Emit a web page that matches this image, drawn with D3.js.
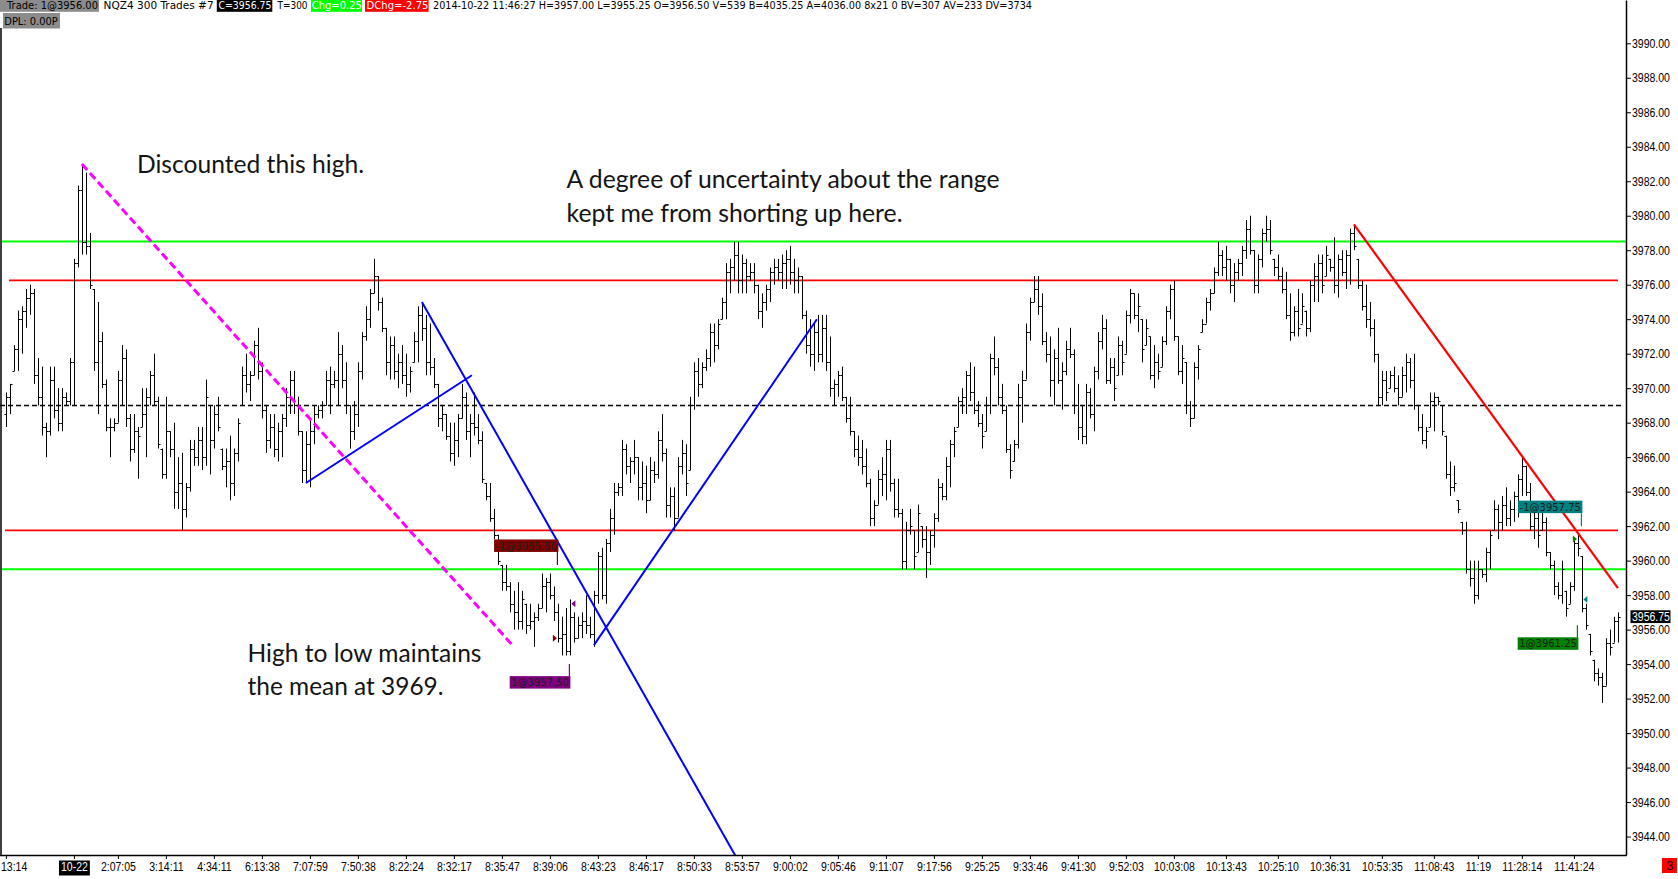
<!DOCTYPE html>
<html>
<head>
<meta charset="utf-8">
<script src="https://cdn.jsdelivr.net/npm/d3@7"></script>
<style>
  body { margin: 0; background: #fff; overflow: hidden; }
  svg { display: block; }
</style>
</head>
<body>
<svg id="chart" width="1678" height="879"></svg>
<script>
// NQZ4, 300 trade bars, 2014-10-22 (quarter points)
const barHigh = [
  3969.75,3970.25,3972.5,3974.5,3974.75,3975.75,3976,3975.75,3971.75,3971.25,3968,3971.25,3971.25,3970,3970,3969.75,3971.75,3977.5,3981.75,3983,
  3982.5,3979,3975.75,3975,3973.25,3970.5,3968.25,3968.25,3971,3972.5,3972.25,3968.5,3968.5,3967.75,3970,3970,3971,3972,3969.5,3966.5,
  3969.5,3967.5,3968,3966,3966.25,3964.5,3967,3967,3967.75,3967.75,3970.5,3969,3969,3969.5,3966.5,3966.5,3967.25,3966.5,3968.25,3971.25,
  3972,3971,3972.75,3973.5,3971.5,3969,3968.5,3968.5,3968,3968.5,3970,3971,3971,3969.5,3967.5,3967.5,3968.25,3969,3969,3969.25,
  3971,3971.25,3971,3973.25,3972.5,3971.5,3969,3969.25,3971.5,3973.25,3974.75,3975.75,3977.5,3976.5,3975.25,3973.5,3973,3973,3972,3972.5,
  3972,3971.25,3973.25,3974.75,3975,3974.25,3973.75,3971.75,3970.25,3969,3968.5,3968,3968,3968.5,3970.25,3969.75,3968.5,3969.75,3968.5,3967.5,
  3964.5,3964.5,3963,3961.5,3959.75,3959.75,3958.75,3958.25,3958.75,3958.25,3957.5,3957.5,3957,3957.5,3959.25,3959,3959.25,3958.5,3957.5,3956.75,
  3957.25,3957.75,3957,3956.75,3957,3958,3956.75,3958.25,3960.5,3960.75,3961.25,3963,3964.5,3964.5,3967,3966.75,3966,3967,3966,3965.75,
  3965.5,3966,3965.75,3967.5,3968.5,3966.5,3964.25,3964.25,3966,3967,3966.75,3969.5,3971.5,3971.75,3971.5,3972.25,3973.75,3973.75,3974,3975.25,
  3977.25,3977.5,3978.5,3978.5,3977.75,3977.5,3977.25,3977.25,3976,3975.5,3976,3977,3977.5,3977.5,3977.75,3978,3978.25,3977.5,3977,3976.5,
  3974.5,3974,3973.75,3974.25,3974.25,3974.25,3973,3970.5,3971,3971.25,3969.5,3969.5,3967.5,3967.25,3967,3966.5,3964.75,3963.5,3965.25,3966,
  3967,3967,3964.75,3964.75,3963,3962.25,3963,3961.75,3963.25,3962,3962,3961.75,3962.75,3964.75,3964.5,3966,3967,3967.75,3969.5,3970,
  3971,3971.5,3971.25,3969.25,3968.5,3969.5,3972,3973,3971.75,3970.25,3969,3966.75,3967,3970.25,3971,3973.75,3975.25,3976.5,3976.5,3975.5,
  3973.25,3973,3972.25,3973.5,3971.5,3972.75,3973.5,3972.25,3970.25,3969,3970.25,3970,3971.25,3973.25,3974.25,3974,3971.75,3971.75,3973,3972.75,
  3974.5,3975.75,3975.5,3975.5,3974,3974,3973,3972.5,3972,3973,3974.75,3976,3976.25,3973,3972.5,3971.5,3969.25,3971.5,3972.5,3974,
  3975.25,3975.75,3977,3978.5,3978,3978.25,3977.5,3977.25,3977.5,3978.25,3979.75,3980,3978,3977.75,3979.25,3980,3979.75,3977.5,3977.75,3977,
  3976.75,3975.5,3974.75,3975.75,3975.5,3974.5,3976.25,3977.25,3977.75,3977.75,3978.25,3977.5,3978.75,3977.75,3978,3978,3979.25,3979.5,3977.5,3976.25,
  3976,3975,3974,3972,3971,3971,3971,3971.25,3970.75,3971.25,3972,3971.75,3972,3969,3968.5,3967.75,3969.75,3969.75,3969.5,3969,
  3967.25,3965.75,3965.5,3963.5,3962.25,3962.25,3960,3960,3960,3959.5,3960.75,3961.75,3963.5,3963.25,3963.75,3964.25,3963.5,3964,3965,3966,
  3965.5,3964.5,3963.25,3963.25,3963,3962.5,3960.5,3960,3958.75,3960,3958.25,3958.75,3961.25,3961.5,3960.25,3957.5,3955.75,3954.25,3953.75,3953.5,
  3955.5,3956,3956.75,3957
];
const barLow = [
  3967.75,3968.5,3971,3971,3972,3973.5,3974.25,3970.25,3969,3967.25,3966,3967.25,3968.25,3967.5,3967.5,3969,3969,3969,3977,3977.75,
  3977.75,3975.75,3971,3968.5,3970,3967.5,3966,3967.5,3968,3969,3967.75,3965.75,3966.25,3964.75,3967.75,3966,3969,3969,3966.5,3964.75,
  3964.75,3966,3963,3963,3961.75,3962.5,3964,3965.5,3965.5,3965.25,3965.5,3965,3966.5,3967.5,3965.25,3964.25,3963.5,3963.75,3965.75,3969,
  3969.75,3969.25,3970.75,3970.5,3968.25,3966.25,3966.5,3966,3965.75,3966,3967.75,3968.5,3968.5,3967.25,3964.5,3964.5,3964.25,3966.75,3968.25,3968.25,
  3969,3968.5,3970,3969,3970,3968.5,3966.5,3967,3967.75,3970.5,3972.75,3973.5,3975.5,3974.5,3973.25,3970.75,3970.5,3970.5,3970,3970.25,
  3969.5,3969.75,3971.5,3971.5,3972.75,3970.75,3970.75,3970,3967.75,3967.5,3967,3965.75,3965.5,3966,3968.25,3967,3966,3967.25,3966.75,3964.5,
  3963.5,3962.25,3961.25,3959.75,3958.25,3958.25,3957,3956,3956,3956,3955.75,3956,3955,3956.5,3957.25,3957,3957.75,3956.5,3955.25,3954.5,
  3954.5,3954.5,3955.25,3955.5,3955.5,3955.75,3955.5,3955,3957.5,3957.75,3957.5,3960.5,3961.5,3963.75,3963.75,3965,3964.5,3965,3963.5,3963.5,
  3962.75,3963.5,3964.5,3964.75,3965.75,3962.5,3962.5,3961.75,3962.5,3965,3963.75,3965.25,3968.75,3969.5,3970,3971,3971.25,3971.5,3972.25,3974,
  3974,3975.5,3976.25,3975.5,3975.5,3975.5,3976.25,3975.5,3974,3973.5,3974.5,3975,3976,3976.25,3975.75,3975.75,3976,3975.5,3975.5,3974,
  3972,3971.25,3971,3971.5,3971.5,3971,3969.5,3969,3969.5,3969.25,3968,3967.25,3966,3965.5,3965,3964.25,3962,3962,3963.25,3963.75,
  3963.5,3964,3962.5,3962.5,3959.5,3959.5,3961.5,3959.5,3960.5,3960.75,3959,3959.75,3960.75,3962.25,3963.5,3963.5,3964.25,3966,3967.75,3968.5,
  3968.5,3969.25,3968.5,3967.75,3966.5,3967.5,3968.5,3970.75,3969,3968.5,3966.25,3964.75,3965.75,3966.5,3968,3970.5,3972.75,3975,3974.25,3972.5,
  3971.5,3969.5,3969,3970.25,3968.75,3970.75,3971.75,3968.5,3967,3966.75,3966.75,3968.25,3967.5,3970.5,3972.25,3970.25,3970.25,3969.25,3970.75,3970.75,
  3972,3973.75,3974,3973.25,3971.5,3972.5,3970.5,3970,3970.5,3971.25,3972.5,3974,3972.75,3970.75,3970.25,3968.5,3967.75,3968.25,3970.5,3973.25,
  3973.75,3974.5,3975.5,3976.5,3976.5,3976.25,3975.5,3975,3976.25,3976.5,3977.5,3977.75,3975.5,3975.5,3977,3978.5,3977.75,3976.5,3976.25,3975.5,
  3974,3972.75,3973,3973,3973.75,3973,3973.25,3975,3975,3975.5,3976.5,3976.75,3975.5,3975.25,3976.5,3975.75,3976,3978,3975.75,3974.5,
  3973.5,3973,3971.5,3969,3969,3969.25,3970,3969.75,3969,3969.5,3969.75,3970,3968.75,3967.5,3966.75,3966.5,3967.75,3967.5,3969,3967.25,
  3964.75,3963.75,3964,3962.75,3961.5,3959.25,3958.5,3957.5,3957.75,3959,3958.75,3959.5,3961.75,3961.25,3961.75,3962,3962,3962.25,3962.5,3963.75,
  3963.75,3961.75,3961.25,3960.75,3961.75,3960.25,3959.5,3958,3957.75,3957.5,3956.75,3957.5,3958.25,3960.25,3957,3956,3954.5,3953,3952.75,3951.75,
  3952.75,3954.5,3955.25,3955.25
];
const barOpen = [
  3968.5,3969.5,3971,3972.25,3974,3974.5,3975.25,3975.5,3970.75,3969.5,3967.75,3967.5,3970.5,3968.75,3968,3969.5,3969.25,3971.5,3977.25,3981.5,
  3978.5,3978.25,3975.75,3971.5,3972.75,3970.25,3967.75,3967.75,3968,3970.5,3971.75,3968.25,3966.5,3967.5,3967.75,3968.5,3969.5,3970.75,3969.25,3966.5,
  3965,3967.5,3966.5,3964,3964.5,3963,3964.25,3966.5,3966,3967,3966,3969,3967,3968.5,3966.5,3965.5,3965.75,3964.5,3966.25,3969,
  3970.75,3970.25,3970.75,3972.5,3971,3968.75,3967,3967.75,3966.5,3967.5,3968.25,3969.5,3970.5,3969,3967.5,3965.25,3966.75,3967.5,3968.5,3968.75,
  3969,3970.5,3970.25,3970.5,3972,3970.5,3969,3967.5,3968.5,3971,3973,3974,3975.5,3976.5,3975,3973.5,3971.5,3972.5,3971,3971.5,
  3970.75,3970.25,3971.5,3972.75,3974.25,3973.5,3971.5,3971.25,3970.25,3968.25,3968.5,3967.25,3966.25,3967,3968.25,3969.5,3967.5,3968,3967.75,3967,
  3964.5,3963.75,3962.5,3961.5,3959.75,3958.75,3958.5,3957.5,3957,3956.5,3957.5,3956.25,3956.5,3956.75,3957.25,3958.5,3958.75,3958,3957,3955.5,
  3955.75,3954.75,3956.75,3955.5,3956.25,3956.5,3956.25,3955.75,3958,3960.25,3958,3961,3962.5,3964,3964.25,3966.5,3965.5,3965.75,3966,3964.25,
  3964.5,3963.5,3965.25,3965,3967,3966.25,3963.25,3963.75,3962.5,3965.5,3966.25,3965.25,3969,3971,3970.25,3971.25,3971.75,3973.25,3972.5,3974,
  3975,3976.75,3977,3977.75,3976.25,3977.25,3976.5,3976.75,3976,3974.5,3975,3975.75,3976.75,3977,3976.75,3977.25,3977.5,3976.75,3976.25,3976.5,
  3974.25,3972.5,3972,3973.25,3972,3973.5,3971.5,3970,3970.25,3970.75,3969.5,3968.25,3967.5,3966.5,3966,3965.5,3964.5,3962.5,3963.25,3964.75,
  3965,3966.5,3964.5,3963,3962.75,3960,3961.75,3961.75,3960.5,3962,3961.25,3960.5,3961.5,3962.5,3964.25,3963.75,3965.5,3966.75,3967.75,3969.25,
  3969.5,3970.75,3969.75,3968.75,3968,3967.5,3969,3971.75,3971.25,3969.5,3968.75,3966.5,3965.75,3966.75,3969.5,3970.5,3973.25,3975,3975.75,3974.75,
  3972.75,3972,3970.5,3971.75,3970.5,3971,3972.25,3972,3969,3967.75,3967.25,3969.75,3968.5,3971,3972.75,3973.5,3970.5,3971.25,3970.75,3972.5,
  3972,3974.25,3975.5,3974.25,3974,3972.5,3973,3970.75,3971.5,3971.25,3972.75,3974.5,3975.75,3973,3971,3971.5,3969,3968.25,3971.25,3973.25,
  3973.75,3975,3975.5,3976.75,3977.75,3977,3977.5,3976,3976.75,3977.25,3978,3979.25,3978,3976,3977.5,3979,3979.25,3977.5,3977,3976.5,
  3975.75,3974.25,3973.25,3974.5,3973.75,3974.5,3973.5,3976,3976.5,3977.25,3976.5,3977.5,3977,3976,3977.5,3976.75,3977.75,3979,3977.5,3976,
  3974.75,3974,3973.5,3972,3969.5,3970.5,3970,3970.75,3970,3969.5,3970.75,3971.5,3970.5,3969,3967.75,3967,3967.75,3969.25,3969.5,3969,
  3967.25,3965,3964.25,3963.5,3962.25,3961.75,3959.5,3959,3958,3959.5,3959.25,3960.5,3961.75,3963,3962.25,3963.25,3962.5,3963,3963.75,3964.75,
  3965.5,3964,3962,3962.5,3961.75,3962.25,3960.5,3959.75,3958.5,3958,3958.25,3957.5,3958.5,3961,3960.25,3957.25,3955.75,3954.25,3953.5,3953.25,
  3952.75,3955.25,3955.25,3956.5
];
const barClose = [
  3969.5,3970.25,3972.25,3974,3974.5,3975.25,3975.5,3970.75,3969.5,3967.75,3967.5,3970.5,3968.75,3968,3969.5,3969.25,3971.5,3977.25,3981.5,3978.5,
  3978.25,3976,3971.5,3972.75,3970.25,3967.75,3967.75,3968,3970.5,3971.75,3968.25,3966.5,3967.5,3967.25,3968.5,3969.5,3970.75,3969.25,3966.75,3965,
  3967.5,3966.5,3964,3964.5,3963,3964.25,3966.5,3966,3967,3966,3969.5,3967,3968.5,3967.75,3965.5,3965.75,3964.5,3966.25,3968,3970.75,
  3970.25,3970.75,3972.5,3971,3968.75,3967,3967.75,3966.5,3967.5,3968.25,3969.5,3970.5,3969,3967.5,3965.25,3966.75,3967.5,3968.5,3968.75,3969,
  3970.5,3970.25,3970.5,3972,3970.5,3969,3967.5,3968.5,3971,3973,3974,3975.5,3976.5,3975,3973.5,3971.5,3972.5,3971,3971.5,3970.75,
  3970.25,3971,3972.75,3974.25,3973.5,3971.5,3971.25,3970.25,3968.25,3968.5,3967.25,3966.25,3967,3968.25,3969.5,3967.5,3968,3967.75,3967,3964.75,
  3963.75,3962.5,3961.5,3960,3958.75,3958.5,3957.5,3957,3956.5,3957.75,3956.25,3956.5,3956.75,3957.25,3958.5,3958.75,3958,3957,3955.5,3955.75,
  3954.75,3956.75,3955.5,3956.25,3956.5,3956.25,3955.75,3958,3960.25,3958,3961,3962.5,3964,3964.25,3966.5,3965.5,3965.75,3966,3964.25,3964.5,
  3963.5,3965.25,3965,3967,3966.25,3963.25,3963.75,3962.5,3965.5,3966.25,3964.5,3969,3971,3970.25,3971.25,3971.75,3973.25,3972.5,3973.75,3975,
  3976.75,3977,3977.75,3976.25,3977.25,3976.5,3976.75,3976,3974.5,3975,3975.75,3976.75,3977,3976.75,3977.25,3977.5,3976.75,3976.25,3976.5,3974.25,
  3972.5,3972,3973.25,3972,3973.5,3971.5,3970,3970.25,3970.75,3969.5,3968.25,3967.5,3966.5,3966,3965.5,3964.5,3962.5,3963.25,3964.75,3965,
  3966.5,3964.5,3963,3962.75,3960,3961.75,3962,3960.25,3962.75,3961.25,3960.5,3961.5,3962.5,3964.25,3963.75,3965.5,3966.75,3967.5,3969.25,3969.5,
  3970.75,3969.75,3968.75,3968,3967.25,3969,3971.75,3971.25,3969.5,3968.75,3966.5,3965.25,3966.75,3969.5,3970.5,3973.25,3975,3975.75,3974.75,3972.75,
  3972,3970.5,3971.75,3970.5,3971,3972.25,3972,3969,3967.75,3967.25,3969.75,3968.5,3971,3972.75,3973.5,3970.5,3971.25,3970,3972.5,3971.5,
  3974.25,3975.5,3974.25,3974.75,3972.25,3973.5,3970.75,3971.5,3971,3972.75,3974.5,3975.75,3973,3971,3971.75,3969,3968.25,3971.25,3972.25,3973.75,
  3975,3975.5,3976.75,3977.75,3977,3977.5,3976,3976.75,3977.25,3978,3979.25,3978,3976,3977.5,3979,3979.25,3978,3977,3976.5,3975.75,
  3974.25,3973.25,3974.5,3973.5,3974.75,3973.5,3976,3976.5,3977.25,3976,3977.75,3977,3976,3977.5,3976.75,3977.75,3979,3978.25,3976,3974.75,
  3974,3973.5,3972,3969.5,3970.5,3969.75,3970.75,3970,3969.5,3970.75,3971.5,3970.5,3969,3967.75,3967,3967.5,3969.25,3969.5,3969.25,3967.5,
  3965,3964.25,3964.5,3963,3961.75,3959.5,3959,3958,3959.5,3959.25,3960.5,3961.5,3963,3962.25,3963.25,3962.5,3963,3963.75,3964.75,3965.5,
  3964,3962,3962.5,3961.5,3962.25,3960.5,3959.75,3958.5,3958,3959.5,3957.25,3958.5,3961,3960.75,3957.25,3956.25,3954.75,3953.5,3953.25,3952.75,
  3955.25,3955,3956.5,3956.75
];

// time axis: bar index of each label and the label text (first one is cut at the left edge)
const timeTickBars = [0,17,28,40,52,64,76,88,100,112,124,136,148,160,172,184,196,208,220,232,244,256,268,280,292,305,318,331,344,357,368,379,392];
const timeTickLabels = ["13:14","10-22","2:07:05","3:14:11","4:34:11","6:13:38","7:07:59","7:50:38","8:22:24","8:32:17","8:35:47",
  "8:39:06","8:43:23","8:46:17","8:50:33","8:53:57","9:00:02","9:05:46","9:11:07","9:17:56","9:25:25","9:33:46","9:41:30",
  "9:52:03","10:03:08","10:13:43","10:25:10","10:36:31","10:53:35","11:08:43","11:19","11:28:14","11:41:24"];

const priceTicks = [3944,3946,3948,3950,3952,3954,3956,3958,3960,3962,3964,3966,3968,3970,3972,3974,3976,3978,3980,3982,3984,3986,3988,3990];
const lastPrice = 3956.75;

// horizontal levels drawn on the chart
const rangeLevels = [3978.5, 3959.5];      // green
const innerLevels = [3976.25, 3961.75];    // red
const meanLevel = 3969;                    // black dashed

// trend lines, [bar, price] end points
const magentaLine = [[19, 3983], [127, 3955]];
const blueLines = [
  [[75, 3964.5], [116.5, 3970.75]],
  [[104, 3975], [186, 3941.4]],
  [[147, 3955.1], [202.75, 3974]]
];
const redLine = [[337, 3979.5], [403, 3958.4]];

// fills
const tradeBars = [138, 141, 393, 394];
const tradePrices = [3955.5, 3957.5, 3961.25, 3957.75];
const tradeQty = [-1, 1, 1, -1];
const tradeEntry = [true, false, true, false];
const tradeTagPrices = [3959.75, 3954, 3956.25, 3962];

const notes = [
  ["Discounted this high."],
  ["A degree of uncertainty about the range", "kept me from shorting up here."],
  ["High to low maintains", "the mean at 3969."]
];

// ---------------------------------------------------------------
const svg = d3.select("#chart");
const plotRight = 1626, plotBottom = 855;
const axisFont = "'Liberation Sans', Arial, sans-serif";
const headFont = "'DejaVu Sans', Verdana, sans-serif";
const narrow = 0.84;   // the platform's axis font is a condensed face

const n = Math.min(barHigh.length, barLow.length, barOpen.length, barClose.length);
const x = d3.scaleLinear().domain([0, 403]).range([5.9, 1617.9]);
const y = d3.scaleLinear().domain([3942.93, 3992.51]).range([plotBottom, 0]);

function condense(sel) {
  sel.each(function () {
    const w = this.getComputedTextLength();
    d3.select(this).attr("textLength", w * narrow).attr("lengthAdjust", "spacingAndGlyphs");
  });
}

svg.append("defs").append("clipPath").attr("id", "plot")
  .append("rect").attr("x", 0).attr("y", 0).attr("width", plotRight).attr("height", plotBottom);

const plot = svg.append("g").attr("clip-path", "url(#plot)");

// levels
const levelG = plot.append("g");
levelG.selectAll("line.range").data(rangeLevels).join("line")
  .attr("x1", 2).attr("x2", plotRight)
  .attr("y1", d => y(d)).attr("y2", d => y(d))
  .attr("stroke", "#00ff00").attr("stroke-width", 2);
levelG.selectAll("line.inner").data(innerLevels).join("line")
  .attr("x1", (d, i) => i ? 5 : 9).attr("x2", 1618)
  .attr("y1", d => y(d)).attr("y2", d => y(d))
  .attr("stroke", "#ff0000").attr("stroke-width", 1.8);
levelG.append("line")
  .attr("x1", 0).attr("x2", 1623)
  .attr("y1", y(meanLevel)).attr("y2", y(meanLevel))
  .attr("stroke", "#000").attr("stroke-width", 1.5).attr("stroke-dasharray", "5,3");

// OHLC bars
const px = i => Math.round(x(i)) + 0.5;
plot.append("g")
  .attr("stroke", "#000").attr("stroke-width", 1).attr("fill", "none")
  .selectAll("path").data(d3.range(n)).join("path")
  .attr("d", i => {
    const xi = px(i);
    const yo = Math.round(y(barOpen[i])) + 0.5, yc = Math.round(y(barClose[i])) + 0.5;
    return `M${xi},${y(barHigh[i])}V${y(barLow[i])}M${xi - 2},${yo}H${xi}M${xi},${yc}H${xi + 2}`;
  });

// trend lines
const seg = d3.line().x(d => x(d[0])).y(d => y(d[1]));
plot.append("path").attr("d", seg(magentaLine))
  .attr("stroke", "#ff00ff").attr("stroke-width", 3).attr("stroke-dasharray", "8,4").attr("fill", "none");
plot.selectAll("path.blue").data(blueLines).join("path").attr("class", "blue")
  .attr("d", seg).attr("stroke", "#0000ff").attr("stroke-width", 2).attr("fill", "none");
plot.append("path").attr("d", seg(redLine))
  .attr("stroke", "#ff0000").attr("stroke-width", 2.2).attr("fill", "none");

// fills: tags and arrows
const tradeColors = ["#800000", "#800080", "#008000", "#008080"];
const trades = plot.append("g");
tradeBars.forEach((b, k) => {
  const c = tradeColors[k];
  const xb = x(b) + 0.5;
  const ty = y(tradeTagPrices[k]);
  const above = tradeQty[k] < 0;
  const label = (tradeQty[k] < 0 ? "-1" : "1") + "@" + tradePrices[k].toFixed(2);
  const t = trades.append("text").attr("font-family", headFont).attr("font-size", 10)
    .attr("fill", "#1e1e1e").text(label);
  const w = t.node().getComputedTextLength() + 3;
  const boxTop = above ? ty - 13 - 12.5 : ty + 12;
  trades.insert("rect", "text")
    .attr("x", xb - w).attr("y", boxTop).attr("width", w).attr("height", 12.5).attr("fill", c);
  t.attr("x", xb - w + 1.5).attr("y", boxTop + 10.2);
  trades.append("line").attr("x1", xb - 1).attr("x2", xb - 1)
    .attr("y1", ty).attr("y2", above ? ty - 13 : ty + 12)
    .attr("stroke", c).attr("stroke-width", 1.2);
  const yp = y(tradePrices[k]);
  const xt = tradeEntry[k] ? x(b) - 1 : x(b) + 1.5;
  const dir = tradeEntry[k] ? -1 : 1;
  trades.append("path")
    .attr("d", `M${xt},${yp}L${xt + dir * 4},${yp - 3.5}L${xt + dir * 4},${yp + 3.5}Z`)
    .attr("fill", c);
});

// left edge
svg.append("line").attr("x1", 1).attr("x2", 1).attr("y1", 28).attr("y2", plotBottom)
  .attr("stroke", "#000").attr("stroke-width", 1.5);

// price axis
const yAxis = d3.axisRight(y).tickValues(priceTicks).tickFormat(d3.format(".2f"))
  .tickSize(5).tickSizeOuter(0).tickPadding(1);
const gy = svg.append("g").attr("transform", `translate(${plotRight},0)`).call(yAxis);
gy.select(".domain").attr("stroke-width", 1.5);
gy.selectAll("text").attr("font-family", axisFont).attr("font-size", 12.5).attr("fill", "#000").call(condense);

// last price flag
const lpY = y(lastPrice);
svg.append("rect").attr("x", 1630.5).attr("y", lpY - 6.4).attr("width", 40).attr("height", 12.8).attr("fill", "#000");
svg.append("text").attr("x", 1632).attr("y", lpY).attr("dy", "0.36em")
  .attr("font-family", axisFont).attr("font-size", 12.5).attr("fill", "#fff").text(lastPrice.toFixed(2)).call(condense);

// time axis
const xAxis = d3.axisBottom(x).tickValues(timeTickBars).tickFormat((d, i) => timeTickLabels[i])
  .tickSize(4).tickPadding(3).tickSizeOuter(0);
const gx = svg.append("g").attr("transform", `translate(0,${plotBottom})`).call(xAxis);
gx.select(".domain").remove();
gx.selectAll("text").attr("font-family", axisFont).attr("font-size", 12.5).attr("fill", "#000").call(condense);
gx.selectAll(".tick").filter((d, i) => i === 0).select("text")
  .attr("text-anchor", "start").attr("x", -x(0) + 0.5);
svg.append("line").attr("x1", 0).attr("x2", plotRight + 0.75).attr("y1", plotBottom + 0.5).attr("y2", plotBottom + 0.5)
  .attr("stroke", "#000").attr("stroke-width", 1.5);
gx.selectAll(".tick").filter((d, i) => i === 1).each(function () {
  const g = d3.select(this);
  const bb = g.select("text").node().getBBox();
  g.insert("rect", "text").attr("x", bb.x - 2).attr("y", 5.5).attr("width", bb.width + 4).attr("height", 15).attr("fill", "#000");
  g.select("text").attr("fill", "#fff");
});

// session marker bottom right
svg.append("rect").attr("x", 1662).attr("y", 858).attr("width", 15).attr("height", 15).attr("fill", "#ff0000");
svg.append("text").attr("x", 1670).attr("y", 870).attr("text-anchor", "middle")
  .attr("font-family", axisFont).attr("font-size", 12.5).attr("fill", "#200").text("3");

// comments
const noteX = [137, 566.5, 247.5];
const noteY = [173, 188, 661.5];
const noteLen = [[227], [433, 336], [234, 196]];
notes.forEach((lines, k) => {
  lines.forEach((s, j) => {
    svg.append("text").attr("x", noteX[k]).attr("y", noteY[k] + j * 33.7)
      .attr("font-family", "Lato, 'Open Sans', sans-serif").attr("font-size", 25).attr("fill", "#141414")
      .attr("textLength", noteLen[k][j]).attr("lengthAdjust", "spacingAndGlyphs")
      .text(s);
  });
});

// title strip
const head = [
  { t: "Trade: 1@3956.00", x: 7, len: 91, bg: "#8c8c8c", bx: 0, bw: 99, fill: "#000" },
  { t: "NQZ4  300 Trades  #7", x: 103.6, len: 110, fill: "#000" },
  { t: "C=3956.75", x: 218.5, len: 53, bg: "#000", bx: 216.8, bw: 55.5, fill: "#fff" },
  { t: "T=300", x: 277.5, len: 30, fill: "#000" },
  { t: "Chg=0.25", x: 311.8, len: 50, bg: "#00ff00", bx: 311, bw: 51, fill: "#fff" },
  { t: "DChg=-2.75", x: 366.5, len: 62, bg: "#ff0000", bx: 365, bw: 63.6, fill: "#fff" },
  { t: "2014-10-22 11:46:27 H=3957.00 L=3955.25 O=3956.50 V=539 B=4035.25 A=4036.00 8x21 0 BV=307 AV=233 DV=3734", x: 433, len: 599, fill: "#000" }
];
const hg = svg.append("g");
head.forEach(h => {
  if (h.bg) hg.append("rect").attr("x", h.bx).attr("y", 0).attr("width", h.bw).attr("height", 11.8).attr("fill", h.bg);
  hg.append("text").attr("x", h.x).attr("y", 9.3).attr("font-family", headFont).attr("font-size", 11)
    .attr("fill", h.fill).attr("textLength", h.len).attr("lengthAdjust", "spacingAndGlyphs").text(h.t);
});
hg.append("rect").attr("x", 3).attr("y", 13).attr("width", 57).attr("height", 15.5).attr("fill", "#8c8c8c");
hg.append("text").attr("x", 4.3).attr("y", 25.3).attr("font-family", headFont).attr("font-size", 11)
  .attr("fill", "#000").attr("textLength", 53.5).attr("lengthAdjust", "spacingAndGlyphs").text("DPL: 0.00P");
</script>
</body>
</html>
